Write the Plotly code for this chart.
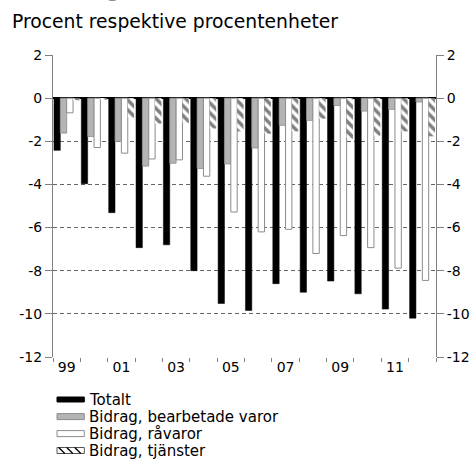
import plotly.graph_objects as go

years = ["99", "00", "01", "02", "03", "04", "05", "06", "07", "08", "09", "10", "11", "12"]
tick_text = ["99", "", "01", "", "03", "", "05", "", "07", "", "09", "", "11", ""]

totalt = [-2.42, -3.97, -5.31, -6.93, -6.80, -8.00, -9.52, -9.84, -8.60, -9.00, -8.48, -9.07, -9.78, -10.20]
bearbetade = [-1.62, -1.78, -2.00, -3.15, -3.02, -3.26, -3.05, -2.31, -1.26, -1.03, -0.34, -0.60, -0.52, -0.18]
ravaror = [-0.68, -2.29, -2.55, -2.82, -2.86, -3.62, -5.28, -6.20, -6.08, -7.20, -6.37, -6.93, -7.88, -8.45]
tjanster = [-0.10, -0.05, -0.91, -1.18, -1.15, -1.41, -1.54, -1.65, -1.54, -0.95, -1.88, -1.74, -1.54, -1.77]

series_names = ["Totalt", "Bidrag, bearbetade varor", "Bidrag, råvaror", "Bidrag, tjänster"]
y_ticks = [2, 0, -2, -4, -6, -8, -10, -12]

FONT = "DejaVu Sans"
W_FIG, H_FIG = 472, 462
ML, MR, MT, MB = 52.7, 36.3, 54.7, 105.3
PW = W_FIG - ML - MR
PH = H_FIG - MT - MB


def px(xp):
    return (xp - ML) / PW


def py(yp):
    return 1 - (yp - MT) / PH


fig = go.Figure()
fig.add_trace(go.Bar(x=years, y=totalt, name=series_names[0], showlegend=False,
                     marker=dict(color="#000000", line=dict(color="#000000", width=0.5))))
fig.add_trace(go.Bar(x=years, y=bearbetade, name=series_names[1], showlegend=False,
                     marker=dict(color="#b4b4b4", line=dict(color="#8c8c8c", width=0.8))))
fig.add_trace(go.Bar(x=years, y=ravaror, name=series_names[2], showlegend=False,
                     marker=dict(color="#ffffff", line=dict(color="#8c8c8c", width=1))))
fig.add_trace(go.Bar(x=years, y=tjanster, name=series_names[3], showlegend=False,
                     marker=dict(color="#ffffff", line=dict(color="#ffffff", width=0),
                                 pattern=dict(shape="\\", fgcolor="#000000", bgcolor="#ffffff",
                                              size=7, solidity=0.5))))
# invisible trace for the right axis
fig.add_trace(go.Scatter(x=years, y=totalt, yaxis="y2", mode="markers",
                         marker=dict(opacity=0), showlegend=False, hoverinfo="skip"))

fig.update_layout(
    width=W_FIG, height=H_FIG,
    paper_bgcolor="white", plot_bgcolor="white",
    barmode="group", bargap=0.07, bargroupgap=0.0,
    margin=dict(l=ML, r=MR, t=MT, b=MB, autoexpand=False),
    font=dict(family=FONT, size=14, color="#000000"),
    showlegend=False,
    xaxis=dict(type="category", range=[-0.5, len(years) - 0.5],
               tickmode="array", tickvals=years, ticktext=tick_text,
               tickson="boundaries", ticks="outside", ticklen=4, tickcolor="#808080",
               tickangle=0, showline=False, showgrid=False, zeroline=False,
               tickfont=dict(family=FONT, size=14, color="#000000")),
    yaxis=dict(range=[-12, 2], tickmode="array", tickvals=y_ticks,
               ticktext=[str(v) for v in y_ticks],
               ticks="outside", ticklen=7, tickcolor="#808080",
               showline=True, linecolor="#808080", linewidth=1,
               showgrid=True, gridcolor="#666666", griddash="4px,3px", gridwidth=1.3,
               zeroline=True, zerolinecolor="#000000", zerolinewidth=1.5,
               tickfont=dict(family=FONT, size=14, color="#000000")),
    yaxis2=dict(range=[-12, 2], tickmode="array", tickvals=y_ticks,
                ticktext=[str(v) for v in y_ticks],
                overlaying="y", side="right",
                ticks="outside", ticklen=7, tickcolor="#808080",
                showline=True, linecolor="#808080", linewidth=1,
                showgrid=False, zeroline=False,
                tickfont=dict(family=FONT, size=14, color="#000000")),
)

# custom legend (symbols as wide rectangles, like the reference)
leg_y = [399.2, 416.3, 433.3, 450.2]
sym_x0, sym_x1 = 56.7, 84.0
sym_styles = [
    dict(h=5, fill="#000000", line="#000000"),
    dict(h=6, fill="#b4b4b4", line="#8c8c8c"),
    dict(h=6, fill="#ffffff", line="#8c8c8c"),
    dict(h=6, fill="#ffffff", line="#555555"),
]
for name, yc, st in zip(series_names, leg_y, sym_styles):
    fig.add_shape(type="rect", xref="paper", yref="paper",
                  x0=px(sym_x0), x1=px(sym_x1), y0=py(yc + st["h"] / 2), y1=py(yc - st["h"] / 2),
                  fillcolor=st["fill"], line=dict(color=st["line"], width=1))
    fig.add_annotation(text=name, xref="paper", yref="paper", x=px(86.5), y=py(yc),
                       xanchor="left", yanchor="middle", showarrow=False,
                       font=dict(family=FONT, size=15, color="#000000"))
# hatch lines in the last legend symbol
yc = leg_y[3]
for xs in [58.5, 66.5, 74.5]:
    fig.add_shape(type="line", xref="paper", yref="paper",
                  x0=px(xs), x1=px(xs + 6), y0=py(yc - 3), y1=py(yc + 3),
                  line=dict(color="#000000", width=1.3))

fig.add_annotation(text="<b>förändring sedan 1998</b>", xref="paper", yref="paper",
                   x=-0.112, y=1.172, xanchor="left", yanchor="bottom", showarrow=False,
                   font=dict(family=FONT, size=18, color="#8c8c8c"))
fig.add_annotation(text="Procent respektive procentenheter", xref="paper", yref="paper",
                   x=-0.112, y=1.07, xanchor="left", yanchor="bottom", showarrow=False,
                   font=dict(family=FONT, size=18.75, color="#000000"))

fig.write_html("out.html", config={"displayModeBar": False},
               post_script="document.body.style.margin='0px';")
